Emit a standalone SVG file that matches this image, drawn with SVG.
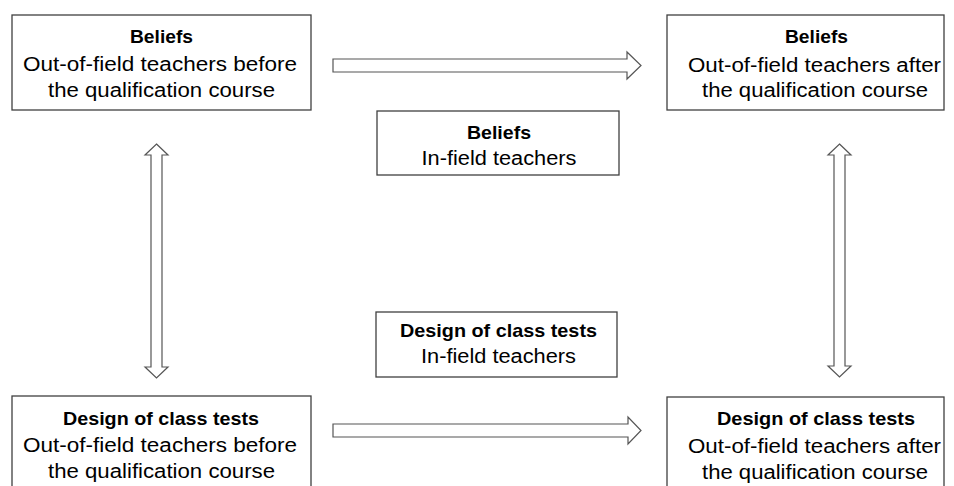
<svg xmlns="http://www.w3.org/2000/svg" width="954" height="486" viewBox="0 0 954 486">
<style>
.box{fill:#fff;stroke:#404040;stroke-width:1.3}
.arr{fill:#fff;stroke:#555;stroke-width:1.2;stroke-linejoin:miter}
text{font-family:"Liberation Sans",Arial,sans-serif;fill:#000;text-anchor:middle}
.b{font-weight:bold;font-size:19px}
.r{font-size:19.5px}
</style>
<rect width="954" height="486" fill="#fff"/>
<g id="connectors">
<polygon class="arr" points="333,59 627,59 627,52 641,65.5 627,79 627,72 333,72"/>
<polygon class="arr" points="333,424 628,424 628,417 641,430.5 628,444 628,437 333,437"/>
<polygon class="arr" points="156.5,144 168,155 162,155 162,367 168,367 156.5,378 145,367 151,367 151,155 145,155"/>
<polygon class="arr" points="839.5,144 851,155 845,155 845,366 851,366 839.5,377 828,366 834,366 834,155 828,155"/>
</g>
<g id="beliefs-before">
<rect class="box" x="12" y="15" width="299" height="95"/>
<text class="b" x="161.5" y="43" textLength="63" lengthAdjust="spacingAndGlyphs">Beliefs</text>
<text class="r" x="160" y="71" textLength="274" lengthAdjust="spacingAndGlyphs">Out-of-field teachers before</text>
<text class="r" x="161.5" y="97" textLength="227" lengthAdjust="spacingAndGlyphs">the qualification course</text>
</g>
<g id="beliefs-after">
<rect class="box" x="667" y="15" width="277" height="95"/>
<text class="b" x="816.5" y="43.3" textLength="63" lengthAdjust="spacingAndGlyphs">Beliefs</text>
<text class="r" x="814.5" y="71.7" textLength="253" lengthAdjust="spacingAndGlyphs">Out-of-field teachers after</text>
<text class="r" x="815" y="97.3" textLength="226" lengthAdjust="spacingAndGlyphs">the qualification course</text>
</g>
<g id="beliefs-infield">
<rect class="box" x="377" y="111" width="242" height="64"/>
<text class="b" x="499" y="139.3" textLength="64" lengthAdjust="spacingAndGlyphs">Beliefs</text>
<text class="r" x="499" y="165" textLength="155" lengthAdjust="spacingAndGlyphs">In-field teachers</text>
</g>
<g id="design-infield">
<rect class="box" x="376" y="312" width="241" height="65"/>
<text class="b" x="498.5" y="336.7" textLength="197" lengthAdjust="spacingAndGlyphs">Design of class tests</text>
<text class="r" x="498.5" y="363.3" textLength="155" lengthAdjust="spacingAndGlyphs">In-field teachers</text>
</g>
<g id="design-before">
<rect class="box" x="12" y="396" width="299" height="100"/>
<text class="b" x="161" y="424.5" textLength="196" lengthAdjust="spacingAndGlyphs">Design of class tests</text>
<text class="r" x="160" y="451.7" textLength="274" lengthAdjust="spacingAndGlyphs">Out-of-field teachers before</text>
<text class="r" x="161.5" y="477.7" textLength="227" lengthAdjust="spacingAndGlyphs">the qualification course</text>
</g>
<g id="design-after">
<rect class="box" x="667" y="397" width="277" height="100"/>
<text class="b" x="816" y="425" textLength="198" lengthAdjust="spacingAndGlyphs">Design of class tests</text>
<text class="r" x="814.5" y="452.7" textLength="253" lengthAdjust="spacingAndGlyphs">Out-of-field teachers after</text>
<text class="r" x="815" y="478.7" textLength="226" lengthAdjust="spacingAndGlyphs">the qualification course</text>
</g>
</svg>
